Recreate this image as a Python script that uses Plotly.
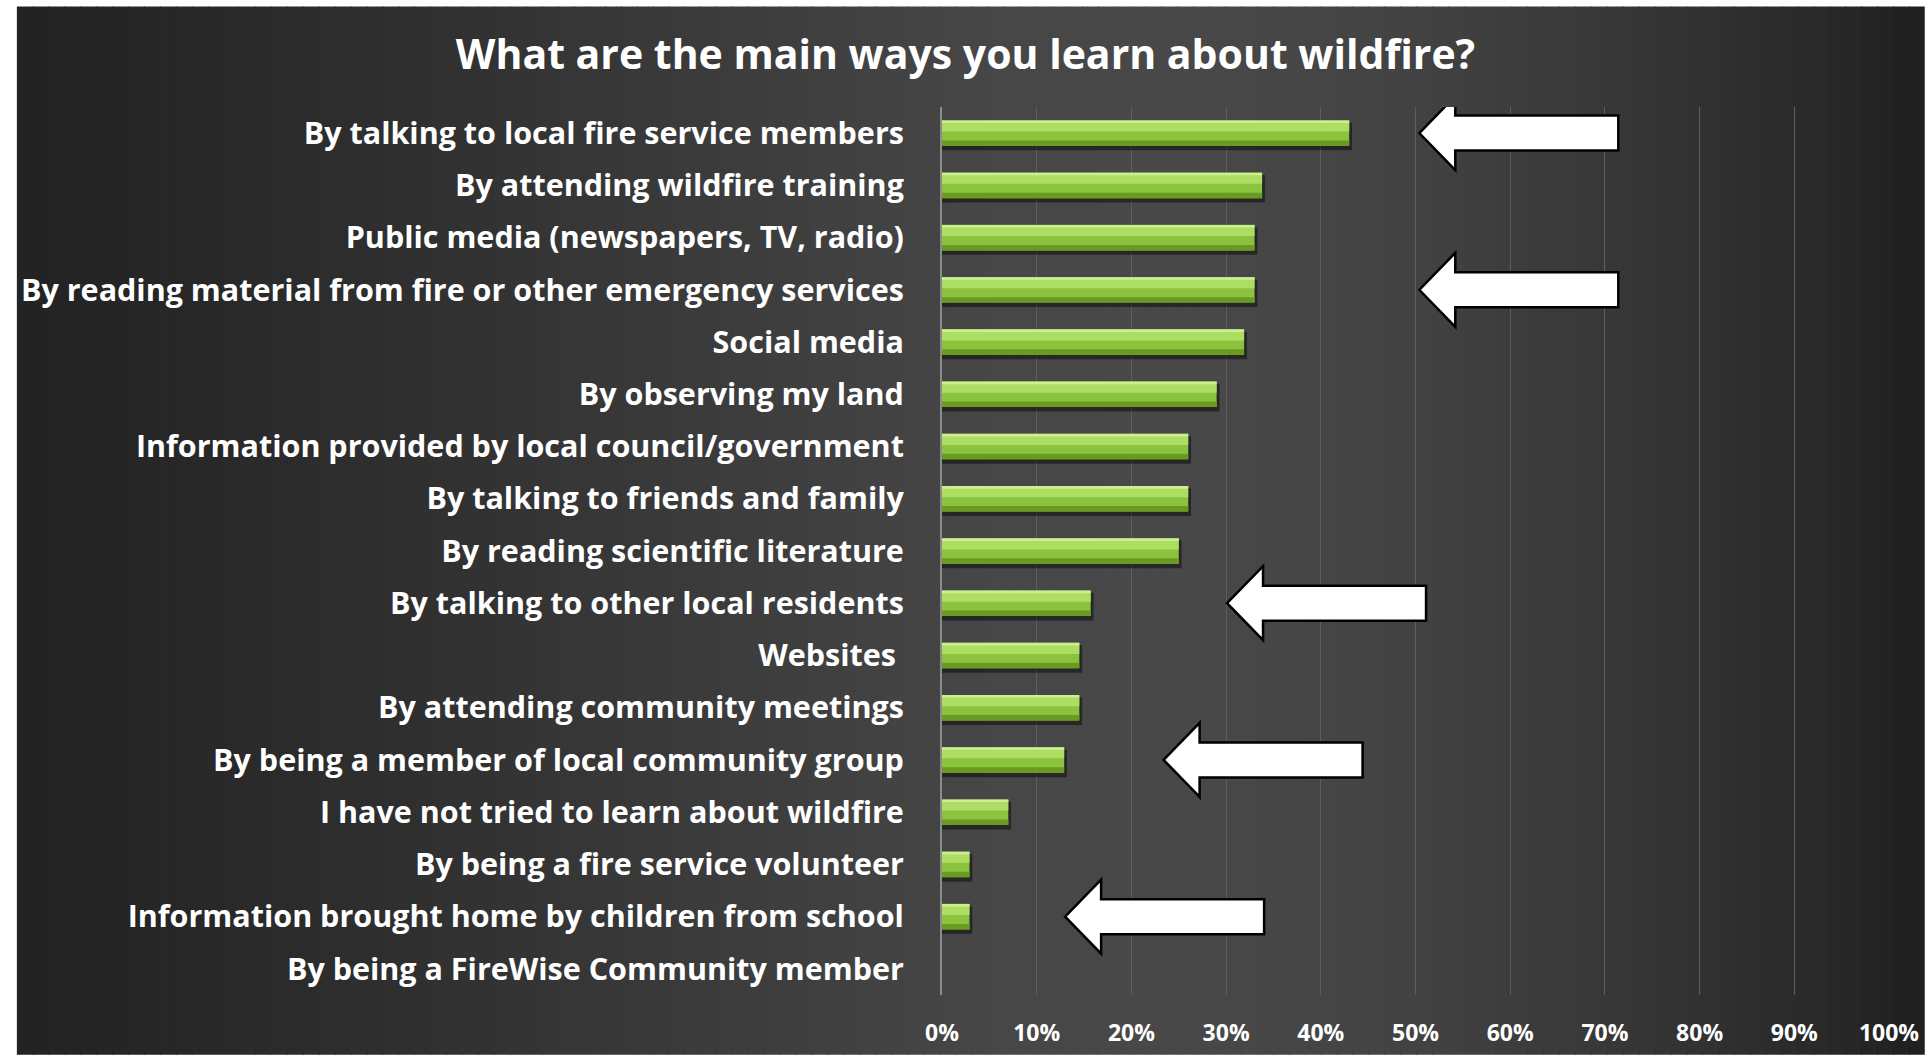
import plotly.graph_objects as go

# Survey responses: share of respondents for each way of learning about wildfire
categories = [
    "By talking to local fire service members",
    "By attending wildfire training",
    "Public media (newspapers, TV, radio)",
    "By reading material from fire or other emergency services",
    "Social media",
    "By observing my land",
    "Information provided by local council/government",
    "By talking to friends and family",
    "By reading scientific literature",
    "By talking to other local residents",
    "Websites\u00a0",
    "By attending community meetings",
    "By being a member of local community group",
    "I have not tried to learn about wildfire",
    "By being a fire service volunteer",
    "Information brought home by children from school",
    "By being a FireWise Community member",
]
shares = [0.430, 0.338, 0.330, 0.330, 0.319, 0.290, 0.260, 0.260, 0.250,
          0.157, 0.145, 0.145, 0.129, 0.070, 0.029, 0.029, 0.0]

x_ticks = [i / 10 for i in range(11)]
x_tick_labels = [f"{i * 10}%" for i in range(11)]

# Highlighted rows: (category, x position of the arrow tip)
arrow_rows = [
    ("By talking to local fire service members", 0.504),
    ("By reading material from fire or other emergency services", 0.504),
    ("By talking to other local residents", 0.301),
    ("By being a member of local community group", 0.234),
    ("Information brought home by children from school", 0.130),
]

W, H = 1931, 1060
M_L, M_R, M_T, M_B = 942, 36, 107, 60
FONT = "Open Sans"

fig = go.Figure()

# Glossy green bars built from stacked layers
layers = [
    # (offset, width, colour, x shift)
    (-0.20, 0.53, "rgba(0,0,0,0.45)", 0.003),
    (-0.245, 0.49, "#8bc33e", 0.0),
    (-0.22, 0.19, "#addd62", 0.0),
    (-0.243, 0.05, "#cdef92", 0.0),
    (0.14, 0.105, "#6a9a22", 0.0),
]
for off, wid, col, dx in layers:
    fig.add_trace(go.Bar(
        y=categories,
        x=[v + dx if v > 0 else 0 for v in shares],
        orientation="h",
        offset=off,
        width=wid,
        marker=dict(color=col, line=dict(width=0)),
        hoverinfo="skip",
        showlegend=False,
    ))

shapes = []

# Horizontal dark-grey gradient behind the whole figure
stops = [(0, 0x22), (200, 0x28), (500, 0x33), (800, 0x3f), (1000, 0x47),
         (1200, 0x48), (1400, 0x43), (1600, 0x38), (1800, 0x2b), (1931, 0x1f)]


def grey_at(px):
    for (x0, c0), (x1, c1) in zip(stops[:-1], stops[1:]):
        if x0 <= px <= x1:
            t = (px - x0) / (x1 - x0)
            return round(c0 + (c1 - c0) * t)
    return stops[-1][1]


plot_w = W - M_L - M_R
plot_h = H - M_T - M_B


def px_to_paper_x(px):
    return (px - M_L) / plot_w


def px_to_paper_y(py):
    return (H - M_B - py) / plot_h


left_edge, top_edge = 11, 6
n_strips = 120
strip_w = (W - left_edge) / n_strips
for i in range(n_strips):
    xa = left_edge + i * strip_w
    xb = xa + strip_w + 1
    g = grey_at(xa + strip_w / 2)
    shapes.append(dict(
        type="rect", xref="paper", yref="paper", layer="below",
        x0=px_to_paper_x(xa), x1=px_to_paper_x(min(xb, W)),
        y0=px_to_paper_y(H), y1=px_to_paper_y(top_edge),
        fillcolor=f"rgb({g},{g},{g})", line=dict(width=0),
    ))

# White block arrows pointing at highlighted rows
arrow_path = "M0,0 L36,37 L36,17.5 L199,17.5 L199,-17.5 L36,-17.5 L36,-37 Z"
for cat, tip in arrow_rows:
    shapes.append(dict(
        type="path", xref="x", yref="y",
        xsizemode="pixel", ysizemode="pixel",
        xanchor=tip, yanchor=cat,
        path=arrow_path,
        fillcolor="white", line=dict(color="black", width=2.5),
        layer="above",
    ))

fig.update_layout(
    width=W, height=H,
    paper_bgcolor="white",
    plot_bgcolor="rgba(0,0,0,0)",
    barmode="overlay",
    margin=dict(l=M_L, r=M_R, t=M_T, b=M_B, pad=0),
    shapes=shapes,
    title=dict(
        text="What are the main ways you learn about wildfire?",
        x=0.5, xref="container", xanchor="center",
        y=1 - 55 / H, yref="container", yanchor="middle",
        font=dict(family=FONT, size=41, color="white", weight="bold"),
    ),
    xaxis=dict(
        range=[0, 1], tickvals=x_ticks, ticktext=x_tick_labels,
        showgrid=True, gridcolor="#5e5e5e", gridwidth=1,
        zeroline=False, showline=False, ticks="",
        ticklabelstandoff=22,
        tickfont=dict(family=FONT, size=23, color="white", weight="bold"),
        fixedrange=True,
    ),
    yaxis=dict(
        categoryorder="array", categoryarray=categories,
        range=[len(categories) - 0.5, -0.5],
        showgrid=False, zeroline=False, ticks="",
        showline=True, linecolor="#8c8c8c", linewidth=2,
        ticklabelstandoff=30,
        tickfont=dict(family=FONT, size=30.5, color="white", weight="bold"),
        fixedrange=True,
    ),
)

fig.write_html("out.html")
